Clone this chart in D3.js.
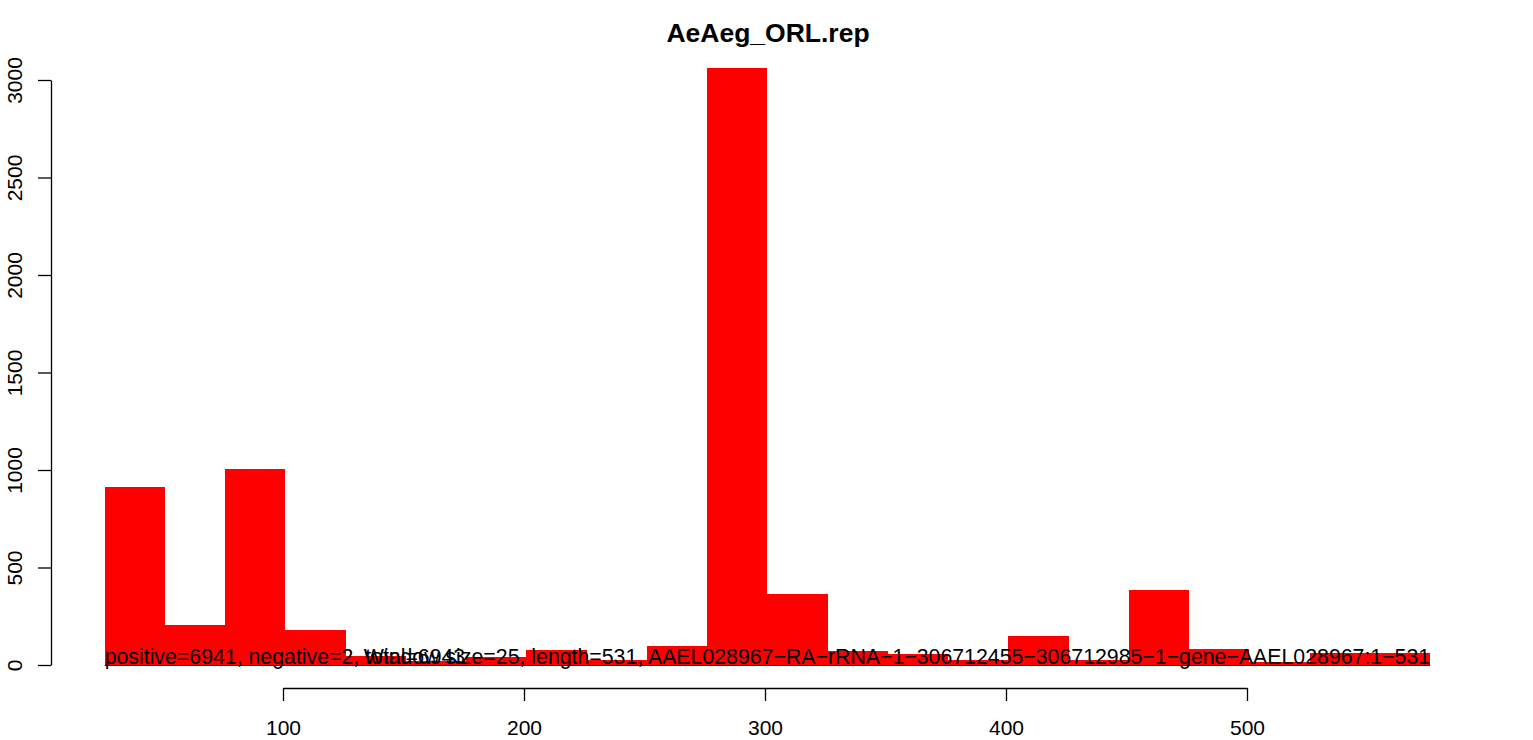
<!DOCTYPE html>
<html>
<head>
<meta charset="utf-8">
<script src="https://cdn.jsdelivr.net/npm/d3@7"></script>
<style>
  body { margin: 0; background: #fff; }
  text { font-family: "Liberation Sans", Arial, sans-serif; }
</style>
</head>
<body>
<div id="chart-area"></div>
<script>
const chartSize = { width: 1533, height: 740 };

const title = "AeAeg_ORL.rep";
const windowSize = 25;
const windowStarts = [26, 51, 76, 101, 126, 151, 176, 201, 226, 251, 276,
    301, 326, 351, 376, 401, 426, 451, 476, 501, 526, 551];
const positiveCounts = [913, 205, 1005, 180, 46, 20, 40, 77, 25, 100, 3062,
    364, 70, 55, 25, 149, 25, 385, 82, 15, 60, 60];
const negativeCounts = [0, 0, 0, 0, 0, 0, 0, 0, 0, 0, 0,
    0, 0, 0, 0, 0, 0, 0, 0, 0, 0, 0];
const yTicks = [0, 500, 1000, 1500, 2000, 2500, 3000];
const xTicks = [100, 200, 300, 400, 500];
const statsLabel = "positive=6941, negative=2, total=6943";
const infoLabel = "Window size=25, length=531, AAEL028967\u2212RA\u2212rRNA\u22121\u2212306712455\u2212306712985\u22121\u2212gene\u2212AAEL028967:1\u2212531";

const x = d3.scaleLinear().domain([100, 500]).range([283, 1247]);
const y = d3.scaleLinear().domain([0, 3000]).range([665, 80]);

const svg = d3.select("#chart-area")
    .append("svg")
    .attr("width", chartSize.width)
    .attr("height", chartSize.height);

svg.append("text")
    .text(title)
    .attr("x", 768)
    .attr("y", 42)
    .attr("text-anchor", "middle")
    .attr("font-weight", "bold")
    .attr("font-size", 26.5);

// positive reads
svg.selectAll(".pos")
    .data(windowStarts)
    .enter()
    .append("rect")
    .attr("class", "pos")
    .attr("x", d => x(d))
    .attr("width", d => x(d + windowSize) - x(d))
    .attr("y", (d, i) => y(positiveCounts[i]))
    .attr("height", (d, i) => y(0) - y(positiveCounts[i]))
    .attr("fill", "#ff0000")
    .attr("shape-rendering", "crispEdges");

// negative reads (all near zero -> thin blue line)
svg.selectAll(".neg")
    .data(windowStarts)
    .enter()
    .append("line")
    .attr("class", "neg")
    .attr("x1", d => x(d))
    .attr("x2", d => x(d + windowSize))
    .attr("y1", (d, i) => y(negativeCounts[i]) + 0.5)
    .attr("y2", (d, i) => y(negativeCounts[i]) + 0.5)
    .attr("stroke", "#0000ff")
    .attr("stroke-width", 1);

// y axis
const yAxis = d3.axisLeft(y).tickValues(yTicks).tickFormat(d3.format("d"))
    .tickSize(13).tickSizeOuter(0);
const gy = svg.append("g")
    .attr("transform", "translate(51,0)")
    .call(yAxis);
gy.select(".domain").attr("stroke", "#000").attr("stroke-width", 1.3);
gy.selectAll(".tick line").attr("stroke-width", 1.3);
gy.selectAll(".tick text")
    .attr("font-size", 21)
    .attr("transform", "rotate(-90)")
    .attr("x", 0)
    .attr("y", -29)
    .attr("dy", 0)
    .attr("text-anchor", "middle")
    .attr("font-family", "Liberation Sans, Arial, sans-serif");

// x axis
const xAxis = d3.axisBottom(x).tickValues(xTicks).tickFormat(d3.format("d"))
    .tickSize(13).tickSizeOuter(0);
const gx = svg.append("g")
    .attr("transform", "translate(0,688)")
    .call(xAxis);
gx.select(".domain").attr("stroke", "#000").attr("stroke-width", 1.3);
gx.selectAll(".tick line").attr("stroke-width", 1.3);
gx.selectAll(".tick text")
    .attr("font-size", 21)
    .attr("y", 47)
    .attr("dy", 0)
    .attr("font-family", "Liberation Sans, Arial, sans-serif");

// annotations (they overlap in the original plot as well)
svg.append("text")
    .text(statsLabel)
    .attr("x", x(windowStarts[0]))
    .attr("y", 664)
    .attr("font-size", 21.3);

svg.append("text")
    .text(infoLabel)
    .attr("x", x(windowStarts[windowStarts.length - 1] + windowSize))
    .attr("y", 664)
    .attr("text-anchor", "end")
    .attr("font-size", 21.3);
</script>
</body>
</html>
